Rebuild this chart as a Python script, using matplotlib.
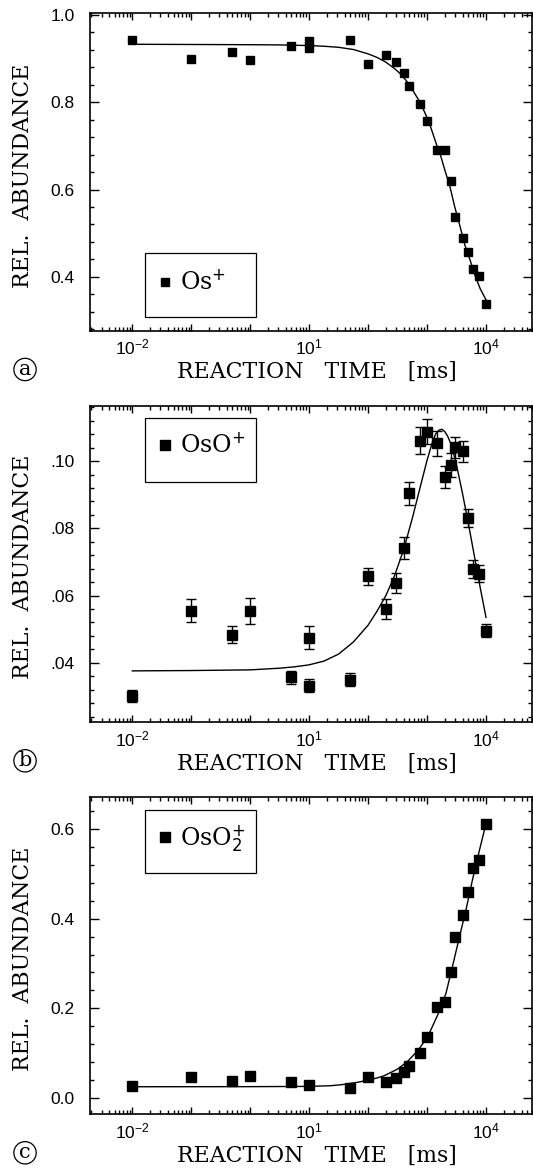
import numpy as np
import matplotlib
matplotlib.use("Agg")
import matplotlib.pyplot as plt
from matplotlib.ticker import LogLocator, FuncFormatter, MultipleLocator, NullFormatter
from matplotlib.lines import Line2D
from matplotlib.patches import Rectangle

# reaction times [ms] of the measured points
times = [0.01, 0.1, 0.5, 1, 5, 10, 10, 50, 100, 200, 300, 400, 500, 750,
         1000, 1500, 2000, 2500, 3000, 4000, 5000, 6000, 7500, 10000]
times_c = [0.01, 0.1, 0.5, 1, 5, 10, 50, 100, 200, 300, 400, 500, 750,
           1000, 1500, 2000, 2500, 3000, 4000, 5000, 6000, 7500, 10000]

# (a) Os+
os_vals = [0.943, 0.899, 0.915, 0.896, 0.929, 0.941, 0.924, 0.943, 0.888, 0.908,
           0.892, 0.867, 0.838, 0.795, 0.756, 0.691, 0.691, 0.619, 0.536, 0.488,
           0.456, 0.418, 0.402, 0.337]
os_fit_t = [0.01, 1, 3.16, 10, 17.8, 31.6, 56.2, 100, 141, 200, 282, 355, 447, 525,
            631, 776, 1070, 1480, 1660, 2040, 2450, 2950, 3630, 4370, 5370, 6460,
            7940, 10000]
os_fit_v = [0.933, 0.932, 0.9315, 0.930, 0.9285, 0.926, 0.921, 0.911, 0.903, 0.892,
            0.877, 0.865, 0.849, 0.836, 0.818, 0.798, 0.756, 0.699, 0.682, 0.641,
            0.606, 0.560, 0.515, 0.473, 0.438, 0.404, 0.373, 0.347]

# (b) OsO+
oso_vals = [0.0301, 0.0555, 0.0484, 0.0554, 0.0357, 0.0475, 0.0332, 0.0350, 0.0657,
            0.0560, 0.0637, 0.0741, 0.0904, 0.1061, 0.1088, 0.1053, 0.0954, 0.0988,
            0.1041, 0.1029, 0.0831, 0.0679, 0.0665, 0.0496]
oso_err = [0.0017, 0.0035, 0.0026, 0.0040, 0.0020, 0.0034, 0.0019, 0.0019, 0.0025,
           0.0029, 0.0030, 0.0033, 0.0034, 0.0040, 0.0038, 0.0037, 0.0033, 0.0035,
           0.0032, 0.0031, 0.0027, 0.0028, 0.0025, 0.0018]
oso_fit_t = [0.01, 0.1, 1, 3.16, 5.62, 10, 17.8, 31.6, 56.2, 100, 141, 200, 282, 398,
             562, 794, 1000, 1259, 1413, 1585, 1778, 1995, 2239, 2512, 2818, 3162,
             3981, 5012, 6310, 7943, 10000]
oso_fit_v = [0.0376, 0.0377, 0.0379, 0.0384, 0.0388, 0.0394, 0.0405, 0.0426, 0.0462,
             0.0512, 0.0553, 0.0600, 0.0660, 0.0735, 0.0830, 0.0934, 0.1003, 0.1062,
             0.1082, 0.1092, 0.1095, 0.1088, 0.1074, 0.1053, 0.1024, 0.0988, 0.0905,
             0.0815, 0.0720, 0.0625, 0.0535]

# (c) OsO2+
oso2_vals = [0.026, 0.046, 0.037, 0.049, 0.035, 0.028, 0.022, 0.047, 0.036, 0.045,
             0.058, 0.071, 0.100, 0.135, 0.203, 0.213, 0.282, 0.360, 0.409, 0.460,
             0.514, 0.531, 0.613]
oso2_fit_t = [0.01, 1, 10, 23, 35, 50, 70, 100, 141, 186, 309, 457, 692, 1023, 1514,
              2089, 2692, 3548, 4571, 5888, 7762, 10000]
oso2_fit_v = [0.0245, 0.0247, 0.0253, 0.0268, 0.029, 0.032, 0.035, 0.0395, 0.044,
              0.049, 0.0633, 0.080, 0.105, 0.136, 0.185, 0.233, 0.293, 0.360, 0.420,
              0.487, 0.554, 0.613]

# axis ticks and labels
xtick_exps = [-2, 1, 4]
yticks_a = [0.4, 0.6, 0.8, 1.0]
yticks_b = [0.04, 0.06, 0.08, 0.10]
yticks_c = [0.0, 0.2, 0.4, 0.6]
ylabels_a = ["0.4", "0.6", "0.8", "1.0"]
ylabels_b = [".04", ".06", ".08", ".10"]
ylabels_c = ["0.0", "0.2", "0.4", "0.6"]
legend_labels = [r"$\mathrm{Os}^{\mathsf{+}}$",
                 r"$\mathrm{OsO}^{\mathsf{+}}$",
                 r"$\mathrm{OsO}_{\mathsf{2}}^{\mathsf{+}}$"]
panel_letters = ["a", "b", "c"]

plt.rcParams["font.family"] = "Liberation Sans"
plt.rcParams["mathtext.fontset"] = "dejavuserif"

SERIF = "DejaVu Serif"
XMIN, XMAX = 10 ** -2.718, 10 ** 4.78


def xfmt(v, pos):
    e = int(round(np.log10(v)))
    if e in xtick_exps:
        return r"$\mathdefault{10^{%d}}$" % e
    return ""


def style_axis(ax, ylim, yticks, ylabels, yminor):
    ax.set_xscale("log")
    ax.set_xlim(XMIN, XMAX)
    ax.set_ylim(*ylim)
    ax.xaxis.set_major_locator(LogLocator(base=10, numticks=20))
    ax.xaxis.set_minor_locator(LogLocator(base=10, subs=np.arange(2, 10), numticks=20))
    ax.xaxis.set_major_formatter(FuncFormatter(xfmt))
    ax.xaxis.set_minor_formatter(NullFormatter())
    ax.set_yticks(yticks, ylabels)
    ax.yaxis.set_minor_locator(MultipleLocator(yminor))
    ax.tick_params(which="both", direction="in", top=True, right=True, width=1,
                   labelsize=12.5)
    ax.tick_params(axis="y", which="major", length=6.5, pad=11)
    ax.tick_params(axis="y", which="minor", length=3)
    ax.tick_params(axis="x", which="major", length=5, pad=5)
    ax.tick_params(axis="x", which="minor", length=2.8)
    for s in ax.spines.values():
        s.set_linewidth(1.2)
    h = ax.bbox.height
    ax.set_xlabel("REACTION   TIME   [ms]", family=SERIF, fontsize=15.8, va="baseline")
    ax.xaxis.set_label_coords(0.514, -47.3 / h)
    ax.set_ylabel("REL.  ABUNDANCE", family=SERIF, fontsize=15.8, va="baseline")
    ax.yaxis.set_label_coords(-0.139, 0.49)


def add_legend(ax, label, ms, y_center, box_y0):
    handle = Line2D([], [], marker="s", ls="none", color="k", ms=ms)
    ax.legend([handle], [label], loc="center left", bbox_to_anchor=(0.154, y_center),
              frameon=False, borderpad=0, borderaxespad=0, handlelength=0.6,
              handletextpad=0.32, prop={"family": SERIF, "size": 17})
    ax.add_patch(Rectangle((0.125, box_y0), 0.251, 0.201, transform=ax.transAxes,
                           fill=False, ec="k", lw=0.9, clip_on=False))


def add_letter(ax, letter):
    h = ax.bbox.height
    ax.text(-0.147, -38.5 / h, letter, transform=ax.transAxes, ha="center", va="center",
            family=SERIF, fontsize=15,
            bbox=dict(boxstyle="circle,pad=0.08", fc="none", ec="k", lw=0.9))


fig = plt.figure(figsize=(5.33, 11.74), dpi=100)
W, H = 533.0, 1174.0
ax_a = fig.add_axes([90 / W, (H - 331) / H, 442 / W, 317.7 / H])
ax_b = fig.add_axes([90 / W, (H - 722.3) / H, 442 / W, 316.6 / H])
ax_c = fig.add_axes([90 / W, (H - 1114.3) / H, 442 / W, 317 / H])

# (a)
ax_a.plot(os_fit_t, os_fit_v, color="k", lw=1.0, zorder=2)
ax_a.plot(times, os_vals, "s", color="k", ms=5.3, zorder=3)
style_axis(ax_a, (0.2756, 1.004), yticks_a, ylabels_a, 0.04)
add_legend(ax_a, legend_labels[0], 5.3, 0.152, 0.043)
add_letter(ax_a, panel_letters[0])

# (b)
ax_b.plot(oso_fit_t, oso_fit_v, color="k", lw=1.0, zorder=2)
ax_b.errorbar(times, oso_vals, yerr=oso_err, fmt="s", color="k", ms=6.5,
              capsize=3.3, elinewidth=1, capthick=1, zorder=3)
style_axis(ax_b, (0.0223, 0.1165), yticks_b, ylabels_b, 0.004)
add_legend(ax_b, legend_labels[1], 7, 0.873, 0.760)
add_letter(ax_b, panel_letters[1])

# (c)
ax_c.plot(oso2_fit_t, oso2_fit_v, color="k", lw=1.0, zorder=2)
ax_c.plot(times_c, oso2_vals, "s", color="k", ms=7, zorder=3)
style_axis(ax_c, (-0.0371, 0.6716), yticks_c, ylabels_c, 0.04)
add_legend(ax_c, legend_labels[2], 7.5, 0.871, 0.760)
add_letter(ax_c, panel_letters[2])

fig.savefig("out.png", dpi=100)
